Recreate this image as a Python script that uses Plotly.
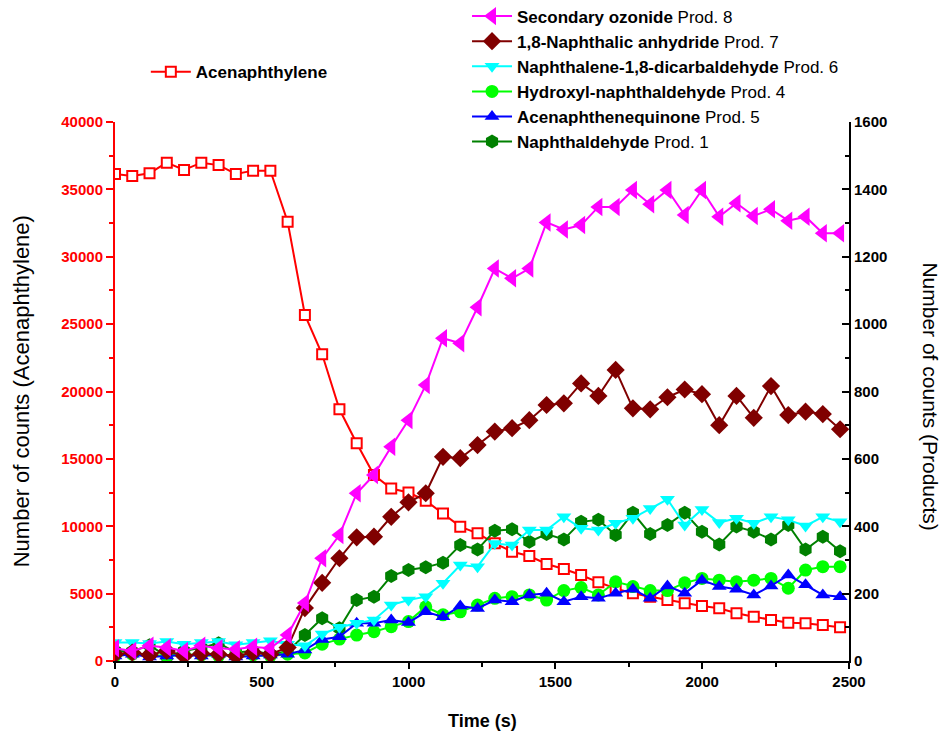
import plotly.graph_objects as go

step = 58.8
n_points = 43
time_s = [round(i * step, 1) for i in range(n_points)]

acenaphthylene = [36140, 36000, 36200, 36980, 36440, 36980, 36800, 36140, 36390, 36390,
                  32600, 25680, 22760, 18680, 16160, 13800, 12800, 12500, 11900, 10950,
                  9970, 9475, 8730, 8110, 7790, 7200, 6830, 6380, 5840, 5390,
                  5020, 4770, 4530, 4280, 4080, 3910, 3540, 3290, 3040, 2840,
                  2800, 2670, 2500]

sec_ozonide = [38, 30, 45, 40, 30, 45, 38, 35, 42, 38,
               77, 172, 305, 374, 498, 552, 636, 715, 819, 958,
               943, 1050, 1165, 1136, 1165, 1302, 1281, 1294, 1348, 1348,
               1398, 1356, 1398, 1324, 1398, 1319, 1359, 1321, 1341, 1307,
               1319, 1270, 1270]

naphthalic_anh = [20, 25, 18, 30, 15, 22, 20, 15, 25, 20,
                  40, 157, 232, 305, 367, 369, 428, 471, 498, 606,
                  602, 641, 681, 691, 715, 760, 765, 824, 787, 864,
                  750, 747, 783, 806, 792, 700, 787, 722, 816, 730,
                  740, 733, 688]

dicarbaldehyde = [55, 55, 52, 58, 50, 55, 58, 48, 55, 60,
                  50, 45, 80, 100, 112, 122, 166, 181, 191, 231,
                  285, 280, 349, 344, 389, 389, 428, 394, 389, 409,
                  424, 453, 480, 404, 450, 411, 424, 409, 428, 419,
                  401, 428, 413]

hydroxyl_nald = [15, 20, 18, 15, 20, 18, 15, 20, 18, 15,
                 20, 24, 50, 65, 77, 87, 102, 117, 161, 137,
                 146, 166, 186, 191, 196, 181, 209, 218, 196, 235,
                 221, 209, 209, 232, 245, 240, 235, 240, 245, 216,
                 270, 280, 280]

acenaphthenequinone = [15, 20, 12, 15, 18, 15, 20, 12, 15, 18,
                       20, 33, 64, 72, 112, 112, 122, 114, 146, 131,
                       163, 156, 181, 176, 196, 201, 176, 191, 186, 201,
                       213, 186, 223, 201, 240, 221, 213, 196, 223, 255,
                       226, 196, 191]

naphthaldehyde = [30, 28, 47, 13, 30, 39, 53, 25, 30, 20,
                  28, 77, 127, 97, 181, 191, 252, 270, 278, 292,
                  344, 331, 387, 391, 354, 377, 361, 413, 419, 374,
                  440, 377, 404, 440, 384, 346, 399, 384, 361, 404,
                  331, 369, 326]

FONT = "Liberation Sans, Arial, sans-serif"

fig = go.Figure()

fig.add_trace(go.Scatter(
    x=time_s, y=acenaphthylene, mode="lines+markers",
    name="<b>Acenaphthylene</b>", yaxis="y", legend="legend2",
    line=dict(color="#FF0000", width=2),
    marker=dict(symbol="square", size=10, color="white",
                line=dict(color="#FF0000", width=2)),
))

# (data, name, colour, symbol, size, legend rank); drawn bottom to top
products = [
    (naphthaldehyde, "<b>Naphthaldehyde</b> Prod. 1", "#008000", "hexagon", 14, 6),
    (hydroxyl_nald, "<b>Hydroxyl-naphthaldehyde</b> Prod. 4", "#00FF00", "circle", 13, 4),
    (acenaphthenequinone, "<b>Acenaphthenequinone</b> Prod. 5", "#0000FF", "triangle-up", 13, 5),
    (dicarbaldehyde, "<b>Naphthalene-1,8-dicarbaldehyde</b> Prod. 6", "#00FFFF", "triangle-down", 13, 3),
    (naphthalic_anh, "<b>1,8-Naphthalic anhydride</b> Prod. 7", "#800000", "diamond", 14, 2),
    (sec_ozonide, "<b>Secondary ozonide</b> Prod. 8", "#FF00FF", "triangle-left", 16, 1),
]
for vals, name, col, sym, size, rank in products:
    fig.add_trace(go.Scatter(
        x=time_s, y=vals, mode="lines+markers", name=name,
        yaxis="y2", legend="legend", legendrank=rank,
        line=dict(color=col, width=2),
        marker=dict(symbol=sym, size=size, color=col, line=dict(width=0)),
    ))

tickfont = dict(family=FONT, size=15, color="black", weight="bold")

fig.update_layout(
    width=944, height=734,
    margin=dict(l=115, r=95, t=122, b=73, autoexpand=False),
    paper_bgcolor="white", plot_bgcolor="white",
    font=dict(family=FONT, color="black"),
    xaxis=dict(
        range=[0, 2500], tickmode="array", tickvals=[0, 500, 1000, 1500, 2000, 2500],
        ticks="outside", ticklen=6, tickwidth=2, tickcolor="black",
        showline=True, linecolor="black", linewidth=2,
        showgrid=False, zeroline=False, tickfont=tickfont,
        minor=dict(dtick=250, ticks="outside", ticklen=4, tickwidth=2, tickcolor="black", showgrid=False),
    ),
    yaxis=dict(
        range=[0, 40000], dtick=5000, tick0=0, tickformat="d",
        ticks="outside", ticklen=7, tickwidth=2, tickcolor="#FF0000",
        showline=True, linecolor="#FF0000", linewidth=2,
        showgrid=False, zeroline=False,
        tickfont=dict(family=FONT, size=15, color="#FF0000", weight="bold"),
        minor=dict(dtick=2500, ticks="outside", ticklen=4, tickwidth=2, tickcolor="#FF0000", showgrid=False),
    ),
    yaxis2=dict(
        range=[0, 1600], dtick=200, tick0=0, overlaying="y", side="right", tickformat="d",
        ticks="inside", ticklen=7, tickwidth=2, tickcolor="black",
        showline=True, linecolor="black", linewidth=2,
        showgrid=False, zeroline=False, tickfont=tickfont,
        minor=dict(dtick=100, ticks="inside", ticklen=4, tickwidth=2, tickcolor="black", showgrid=False),
    ),
    legend=dict(
        x=0.4796, y=1.229, xanchor="left", yanchor="top",
        font=dict(family=FONT, size=17, color="black"),
        bgcolor="rgba(0,0,0,0)", traceorder="normal", itemwidth=40,
    ),
    legend2=dict(
        x=0.042, y=1.126, xanchor="left", yanchor="top",
        font=dict(family=FONT, size=17, color="black"),
        bgcolor="rgba(0,0,0,0)", itemwidth=40,
    ),
    annotations=[
        dict(text="Number of counts (Acenaphthylene)", xref="paper", yref="paper",
             x=-0.127, y=0.5, textangle=-90, showarrow=False,
             font=dict(family=FONT, size=22, color="black"), xanchor="center", yanchor="middle"),
        dict(text="Number of counts (Products)", xref="paper", yref="paper",
             x=1.111, y=0.49, textangle=90, showarrow=False,
             font=dict(family=FONT, size=21, color="black"), xanchor="center", yanchor="middle"),
        dict(text="<b>Time (s)</b>", xref="paper", yref="paper",
             x=0.5, y=-0.111, showarrow=False,
             font=dict(family=FONT, size=18, color="black"), xanchor="center", yanchor="middle"),
    ],
)

fig.write_html("out.html", config={"displayModeBar": False},
               post_script="document.body.style.margin='0px';")
